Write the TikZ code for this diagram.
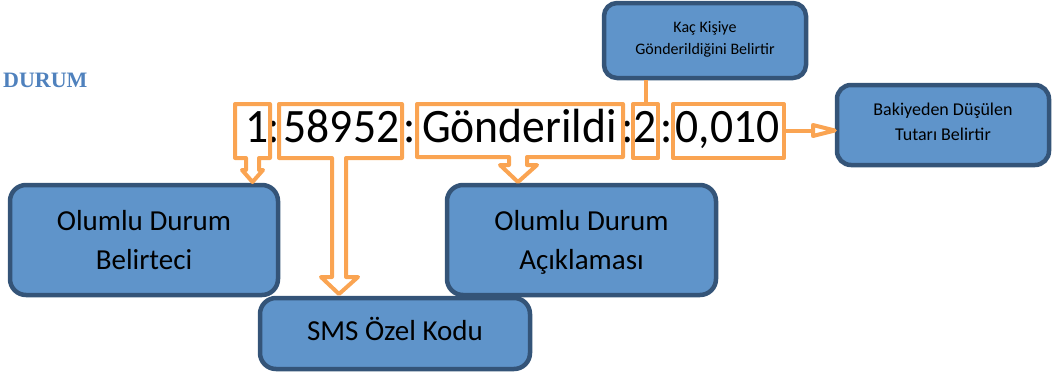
\documentclass[tikz,border=0pt]{standalone}
\usepackage{fontspec}
\setmainfont{Carlito}
\newfontfamily\durumfont{Liberation Serif}
\usetikzlibrary{calc}
\definecolor{orng}{RGB}{250,164,82}
\definecolor{boxfill}{RGB}{95,148,202}
\definecolor{boxline}{RGB}{52,84,120}
\definecolor{durumblue}{RGB}{79,129,189}
\newcommand\bigstr{\rule[-10pt]{0pt}{39pt}}
\newcommand\smsstr{\rule[-9pt]{0pt}{31pt}}
\newcommand\kacstr{\rule[-7pt]{0pt}{19pt}}
\newcommand\bakstr{\rule[-8pt]{0pt}{21pt}}
\newcommand\squeeze[1]{\scalebox{0.95}[1]{#1}}
\begin{document}
\begin{tikzpicture}[x=1pt,y=-1pt,
  infobox/.style={draw=boxline, fill=boxfill, line width=4.5pt, rounded corners=16pt, align=center, inner sep=0pt, text=black},
  bigtxt/.style={font=\fontsize{29}{39}\selectfont},
  smalltxt/.style={font=\fontsize{16}{22}\selectfont},
  midtxt/.style={font=\fontsize{18}{25}\selectfont},
  codetxt/.style={anchor=base, inner sep=0pt, font=\fontsize{48}{58}\selectfont},
  callout/.style={draw=orng, line width=4pt, line join=round}]
\useasboundingbox (0,0) rectangle (1053,378);

% title
\node[anchor=base west, inner sep=0pt, text=durumblue, font=\durumfont\bfseries\fontsize{22}{26}\selectfont] (title) at (3,87) {DURUM};

% boxes
\node[infobox, bigtxt, minimum width=268pt, minimum height=110pt] (b1) at (144,240) {\bigstr Olumlu Durum\\\bigstr Belirteci};
\node[infobox, bigtxt, minimum width=269pt, minimum height=110pt] (b2) at (581.5,240) {\bigstr Olumlu Durum\\\bigstr Açıklaması};
\node[infobox, bigtxt, minimum width=270pt, minimum height=71pt] (sms) at (395,333.5) {\smsstr SMS Özel Kodu};
\node[infobox, smalltxt, rounded corners=13pt, minimum width=202pt, minimum height=75pt] (kac) at (705,40.5) {\kacstr Kaç Kişiye\\\kacstr Gönderildiğini Belirtir};
\node[infobox, midtxt, rounded corners=14pt, minimum width=212pt, minimum height=80pt] (bak) at (943,125) {\bakstr Bakiyeden Düşülen\\\bakstr Tutarı Belirtir};

% code text, one node per segment
\node[codetxt] (s1) at (257.5,142) {\squeeze{1}};
\node[codetxt] (c1) at (274,142) {\squeeze{:}};
\node[codetxt] (s2) at (341.5,142) {\squeeze{58952}};
\node[codetxt] (c2) at (410,142) {\squeeze{:}};
\node[codetxt] (s3) at (519.5,142) {\squeeze{Gönderildi}};
\node[codetxt] (c3) at (627.5,142) {\squeeze{:}};
\node[codetxt] (s4) at (645.5,142) {\squeeze{2}};
\node[codetxt] (c4) at (667,142) {\squeeze{:}};
\node[codetxt] (s5) at (727.5,142) {\squeeze{0,010}};

% callout 1
\draw[callout] (246,158) -- (235,158) -- (235,104) -- (270,104) -- (270,158) -- (259,158) -- (259,170) -- (263,170) -- (252.5,182) -- (242,170) -- (246,170) -- cycle;
% callout 2
\draw[callout] (332,158) -- (279,158) -- (279,104) -- (402,104) -- (402,158) -- (346,158) -- (346,277) -- (358,277) -- (339,294) -- (321,277) -- (332,277) -- cycle;
% callout 3
\draw[callout] (509,157) -- (417,157) -- (417,104) -- (623,104) -- (623,157) -- (527,157) -- (527,165) -- (537,165) -- (518,182) -- (500,165) -- (509,165) -- cycle;
% box 4
\draw[callout] (633,104) rectangle (658,158);
\coordinate (r4top) at (645.5,104);
\draw[callout] (r4top) -- (r4top |- kac.south);
% box 5
\draw[callout] (673,104) rectangle (784,158);
\coordinate (r5e) at (784,130.5);
\coordinate (hd) at (813,130.5);
\draw[callout] (r5e) -- (hd);
\draw[callout] (813,125) -- (bak.west |- hd) -- (813,136) -- cycle;
\end{tikzpicture}
\end{document}
